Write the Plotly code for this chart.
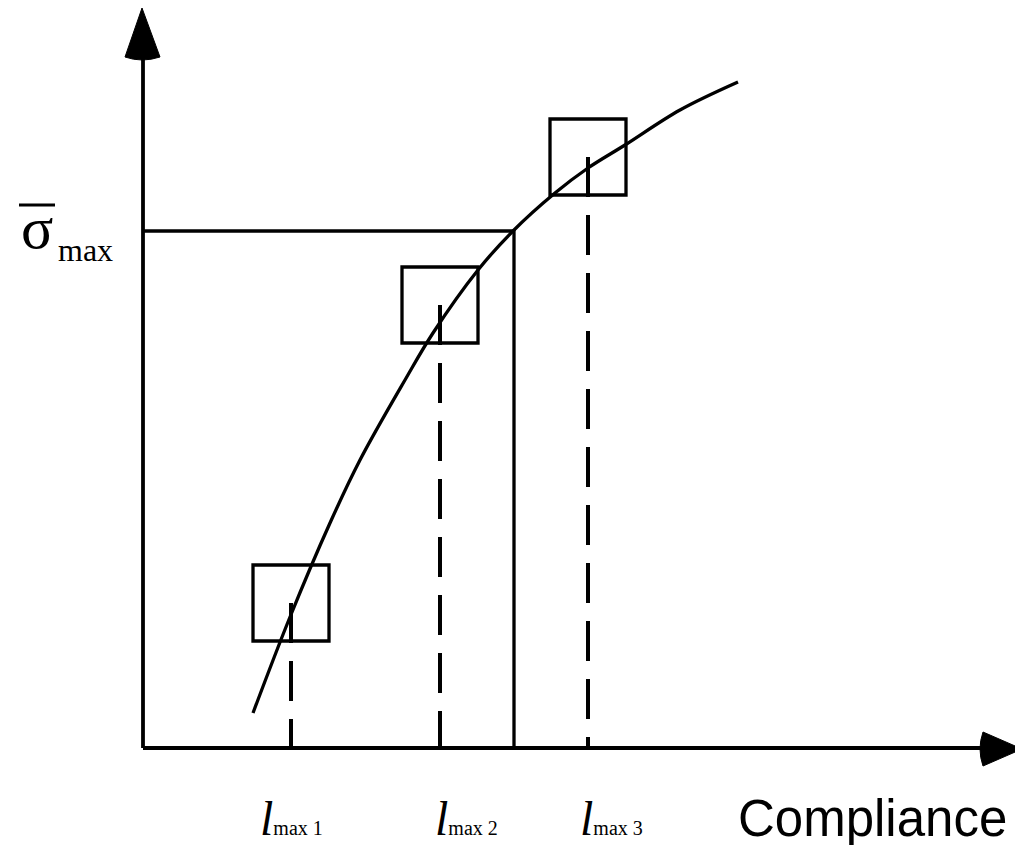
import plotly.graph_objects as go

# ---- data (chart units, origin at axes intersection) ----
curve_x = [110, 147, 187, 217, 262, 290, 335, 370, 412, 445, 482, 537, 595]
curve_y = [35, 131, 225, 288, 368, 415, 478, 517, 555, 580, 603, 638, 666]

l_positions = [148, 297, 445]          # l_max1, l_max2, l_max3
square_y = [145, 443, 591]             # centres of the squares / top of dashed lines
l_labels = ["1", "2", "3"]
sigma_max = 517
sigma_x = 371

x_axis_len = 879
y_axis_len = 740
half_sq = 38

fig = go.Figure()

# curve
fig.add_trace(go.Scatter(x=curve_x, y=curve_y, mode="lines",
                         line=dict(color="black", width=3.3, shape="spline", smoothing=1.0),
                         hoverinfo="skip", showlegend=False))

# dashed verticals
for xv, yv in zip(l_positions, square_y):
    fig.add_trace(go.Scatter(x=[xv, xv], y=[yv, 0], mode="lines",
                             line=dict(color="black", width=4, dash="40px,18px"),
                             hoverinfo="skip", showlegend=False))

# sigma_max solid lines
fig.add_trace(go.Scatter(x=[0, sigma_x, sigma_x], y=[sigma_max, sigma_max, 0], mode="lines",
                         line=dict(color="black", width=3.3),
                         hoverinfo="skip", showlegend=False))

shapes = []
# squares
for xv, yv in zip(l_positions, square_y):
    shapes.append(dict(type="rect", xref="x", yref="y",
                       x0=xv - half_sq, x1=xv + half_sq, y0=yv - half_sq, y1=yv + half_sq,
                       line=dict(color="black", width=3.3)))
# axes
shapes.append(dict(type="line", xref="x", yref="y", x0=0, y0=0, x1=x_axis_len - 30, y1=0,
                   line=dict(color="black", width=3.8)))
shapes.append(dict(type="line", xref="x", yref="y", x0=0, y0=0, x1=0, y1=y_axis_len - 40,
                   line=dict(color="black", width=3.8)))
# arrowheads
ty = y_axis_len
shapes.append(dict(type="path", xref="x", yref="y",
                   path=f"M -1 {ty} L 17 {ty-49} Q -1 {ty-55} -18 {ty-49} Z",
                   fillcolor="black", line=dict(color="black", width=1)))
tx = x_axis_len
shapes.append(dict(type="path", xref="x", yref="y",
                   path=f"M {tx} -1 L {tx-39} 16 Q {tx-45} -1 {tx-39} -18 Z",
                   fillcolor="black", line=dict(color="black", width=1)))
# overline of sigma
shapes.append(dict(type="line", xref="x", yref="y", x0=-124, x1=-88, y0=sigma_max + 26, y1=sigma_max + 26,
                   line=dict(color="black", width=3)))

annotations = []
annotations.append(dict(x=-106, y=sigma_max + 3, xref="x", yref="y", text="σ", showarrow=False,
                        xanchor="center", yanchor="middle",
                        font=dict(family="Liberation Serif", size=60, color="black")))
annotations.append(dict(x=-87, y=sigma_max - 19, xref="x", yref="y", text="max", showarrow=False,
                        xanchor="left", yanchor="middle",
                        font=dict(family="Liberation Serif", size=32, color="black")))

label_offsets = [-33, -7, -10]
for xv, lab, off in zip(l_positions, l_labels, label_offsets):
    annotations.append(dict(x=xv + off, y=-70, xref="x", yref="y",
                            text=f"<i>l</i><span style='font-size:20px'>max {lab}</span>",
                            showarrow=False, xanchor="left", yanchor="middle",
                            font=dict(family="Liberation Serif", size=48, color="black")))

annotations.append(dict(x=866, y=-70, xref="x", yref="y", text="Compliance", showarrow=False,
                        xanchor="right", yanchor="middle",
                        font=dict(family="Liberation Sans", size=51, color="black")))

fig.update_layout(
    width=1023, height=845,
    margin=dict(l=0, r=0, t=0, b=0),
    paper_bgcolor="white", plot_bgcolor="white",
    xaxis=dict(range=[-135, 888], visible=False, fixedrange=True),
    yaxis=dict(range=[-105, 740], visible=False, fixedrange=True),
    shapes=shapes, annotations=annotations,
    showlegend=False,
)

fig.write_html("out.html")
